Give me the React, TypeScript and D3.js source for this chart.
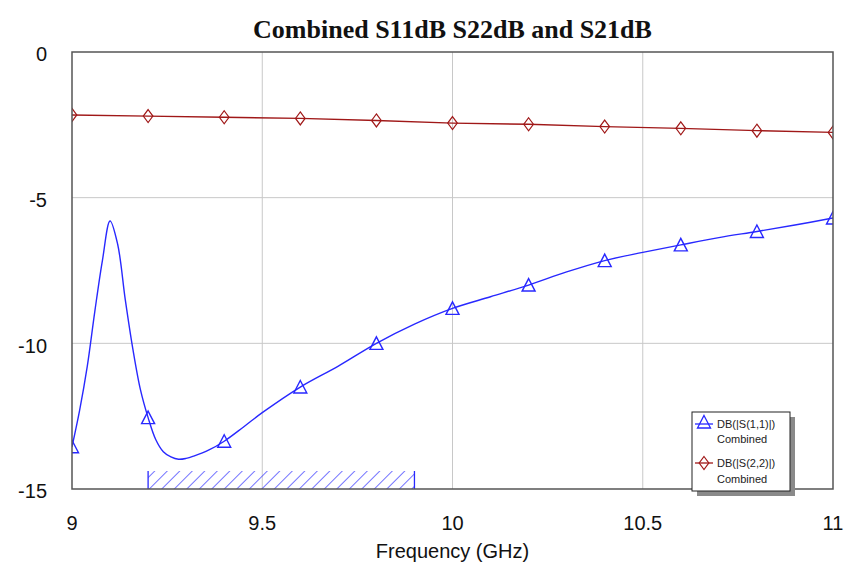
import React from "react";
import * as d3 from "d3";

// ---- data ----
const s11Freq = [9.0, 9.02, 9.04, 9.06, 9.08, 9.1, 9.12, 9.14, 9.16, 9.18, 9.2, 9.22, 9.24, 9.26, 9.28, 9.3, 9.32, 9.36, 9.4, 9.45, 9.5, 9.6, 9.7, 9.8, 9.9, 10.0, 10.1, 10.2, 10.3, 10.4, 10.5, 10.6, 10.7, 10.8, 10.9, 11.0];
const s11dB = [-13.55, -12.3, -10.8, -8.9, -7.15, -5.8, -6.6, -8.5, -10.2, -11.6, -12.55, -13.3, -13.72, -13.9, -13.98, -13.95, -13.87, -13.66, -13.36, -12.88, -12.38, -11.5, -10.78, -10.0, -9.34, -8.8, -8.4, -8.0, -7.55, -7.16, -6.88, -6.62, -6.37, -6.16, -5.94, -5.7];
const s22Freq = [9.0, 9.2, 9.4, 9.6, 9.8, 10.0, 10.2, 10.4, 10.6, 10.8, 11.0];
const s22dB = [-2.16, -2.2, -2.24, -2.28, -2.35, -2.44, -2.48, -2.56, -2.62, -2.7, -2.76];
const markerFreq = [9.0, 9.2, 9.4, 9.6, 9.8, 10.0, 10.2, 10.4, 10.6, 10.8, 11.0];
const xTicks = [9, 9.5, 10, 10.5, 11];
const xTickLabels = ["9", "9.5", "10", "10.5", "11"];
const yTicks = [0, -5, -10, -15];
const yTickLabels = ["0", "-5", "-10", "-15"];
const hatchRange = [9.2, 9.9];
const titleText = "Combined S11dB S22dB and S21dB";
const xAxisTitle = "Frequency (GHz)";
const legendLabels = ["DB(|S(1,1)|)", "DB(|S(2,2)|)"];
const legendSub = "Combined";

const W = 851, H = 571;
const M = { left: 72, right: 833, top: 52, bottom: 489 };
const BLUE = "#2828ff";
const RED = "#a01818";

function triPath(cx: number, cy: number) {
  const s = 6.5;
  return `M${cx},${cy - s} L${cx + s},${cy + s - 0.5} L${cx - s},${cy + s - 0.5} Z`;
}
function diaPath(cx: number, cy: number) {
  return `M${cx},${cy - 6.5} L${cx + 4.8},${cy} L${cx},${cy + 6.5} L${cx - 4.8},${cy} Z`;
}

export default function App() {
  const x = d3.scaleLinear().domain([9, 11]).range([M.left, M.right]);
  const y = d3.scaleLinear().domain([-15, 0]).range([M.bottom, M.top]);

  const s11 = s11Freq.map((f, i) => [f, s11dB[i]] as [number, number]);
  const s22 = s22Freq.map((f, i) => [f, s22dB[i]] as [number, number]);

  const line = d3
    .line<[number, number]>()
    .x((d) => x(d[0]))
    .y((d) => y(d[1]))
    .curve(d3.curveCatmullRom.alpha(0.5));
  const lineLin = d3
    .line<[number, number]>()
    .x((d) => x(d[0]))
    .y((d) => y(d[1]));

  const s11Markers = markerFreq.map((f) => {
    const i = s11Freq.findIndex((v) => Math.abs(v - f) < 1e-9);
    return [f, s11dB[i]] as [number, number];
  });
  const s22Markers = markerFreq.map((f) => {
    const i = s22Freq.findIndex((v) => Math.abs(v - f) < 1e-9);
    return [f, s22dB[i]] as [number, number];
  });

  const hx0 = x(hatchRange[0]);
  const hx1 = x(hatchRange[1]);
  const hTop = M.bottom - 18;

  const font = "Arial, 'Liberation Sans', sans-serif";

  const lgX = 692, lgY = 412, lgW = 98, lgH = 79;

  return (
    <svg width={W} height={H} style={{ position: "absolute", left: 0, top: 0, background: "#fff" }}>
      <defs>
        <clipPath id="plotClip">
          <rect x={M.left} y={M.top} width={M.right - M.left} height={M.bottom - M.top} />
        </clipPath>
        <pattern id="hatch" patternUnits="userSpaceOnUse" width={8.84} height={8.84} patternTransform="rotate(45)">
          <line x1={0} y1={0} x2={0} y2={8.84} stroke={BLUE} strokeWidth={1.3} />
        </pattern>
      </defs>
      <rect x={0} y={0} width={W} height={H} fill="#fff" />

      {/* title */}
      <text x={(M.left + M.right) / 2} y={38} textAnchor="middle" fontFamily="'Liberation Serif', 'Times New Roman', serif" fontWeight="bold" fontSize={26} fill="#111">
        {titleText}
      </text>

      {/* grid */}
      {xTicks.slice(1, -1).map((t) => (
        <line key={"gx" + t} x1={x(t)} x2={x(t)} y1={M.top} y2={M.bottom} stroke="#c8c8c8" strokeWidth={1} />
      ))}
      {yTicks.slice(1, -1).map((t) => (
        <line key={"gy" + t} x1={M.left} x2={M.right} y1={y(t)} y2={y(t)} stroke="#c8c8c8" strokeWidth={1} />
      ))}

      {/* hatch band */}
      <rect x={hx0} y={hTop} width={hx1 - hx0} height={M.bottom - hTop} fill="url(#hatch)" />
      <line x1={hx0} x2={hx0} y1={hTop} y2={M.bottom} stroke={BLUE} strokeWidth={1.3} />
      <line x1={hx1} x2={hx1} y1={hTop} y2={M.bottom} stroke={BLUE} strokeWidth={1.3} />

      <g clipPath="url(#plotClip)">
        <path d={lineLin(s22) || ""} fill="none" stroke={RED} strokeWidth={1.4} />
        <path d={line(s11) || ""} fill="none" stroke={BLUE} strokeWidth={1.4} />
        {s22Markers.map((d, i) => (
          <path key={"dm" + i} d={diaPath(x(d[0]), y(d[1]))} fill="none" stroke={RED} strokeWidth={1.2} />
        ))}
        {s11Markers.map((d, i) => (
          <path key={"tm" + i} d={triPath(x(d[0]), y(d[1]))} fill="none" stroke={BLUE} strokeWidth={1.4} />
        ))}
      </g>

      {/* frame */}
      <rect x={M.left} y={M.top} width={M.right - M.left} height={M.bottom - M.top} fill="none" stroke="#555" strokeWidth={1.5} />

      {/* y tick labels */}
      {yTicks.map((t, i) => (
        <text key={"yl" + t} x={47} y={y(t) + 4} textAnchor="end" dominantBaseline="middle" fontFamily={font} fontSize={20} fill="#111">
          {yTickLabels[i]}
        </text>
      ))}
      {/* x tick labels */}
      {xTicks.map((t, i) => (
        <text key={"xl" + t} x={x(t)} y={530} textAnchor="middle" fontFamily={font} fontSize={20} fill="#111">
          {xTickLabels[i]}
        </text>
      ))}
      <text x={(M.left + M.right) / 2} y={558} textAnchor="middle" fontFamily={font} fontSize={20} fill="#111">
        {xAxisTitle}
      </text>

      {/* legend */}
      <rect x={lgX + 5} y={lgY + 5} width={lgW} height={lgH} fill="#8a8a8a" />
      <rect x={lgX} y={lgY} width={lgW} height={lgH} fill="#fff" stroke="#222" strokeWidth={1} />
      <line x1={lgX + 3} x2={lgX + 21} y1={lgY + 12} y2={lgY + 12} stroke={BLUE} strokeWidth={1.3} />
      <path d={triPath(lgX + 12, lgY + 10)} fill="none" stroke={BLUE} strokeWidth={1.3} />
      <text x={lgX + 25} y={lgY + 16} fontFamily={font} fontSize={11} fill="#222">{legendLabels[0]}</text>
      <text x={lgX + 25} y={lgY + 31} fontFamily={font} fontSize={11} fill="#222">{legendSub}</text>
      <line x1={lgX + 3} x2={lgX + 21} y1={lgY + 51} y2={lgY + 51} stroke={RED} strokeWidth={1.3} />
      <path d={diaPath(lgX + 12, lgY + 51)} fill="none" stroke={RED} strokeWidth={1.2} />
      <text x={lgX + 25} y={lgY + 55} fontFamily={font} fontSize={11} fill="#222">{legendLabels[1]}</text>
      <text x={lgX + 25} y={lgY + 71} fontFamily={font} fontSize={11} fill="#222">{legendSub}</text>
    </svg>
  );
}
